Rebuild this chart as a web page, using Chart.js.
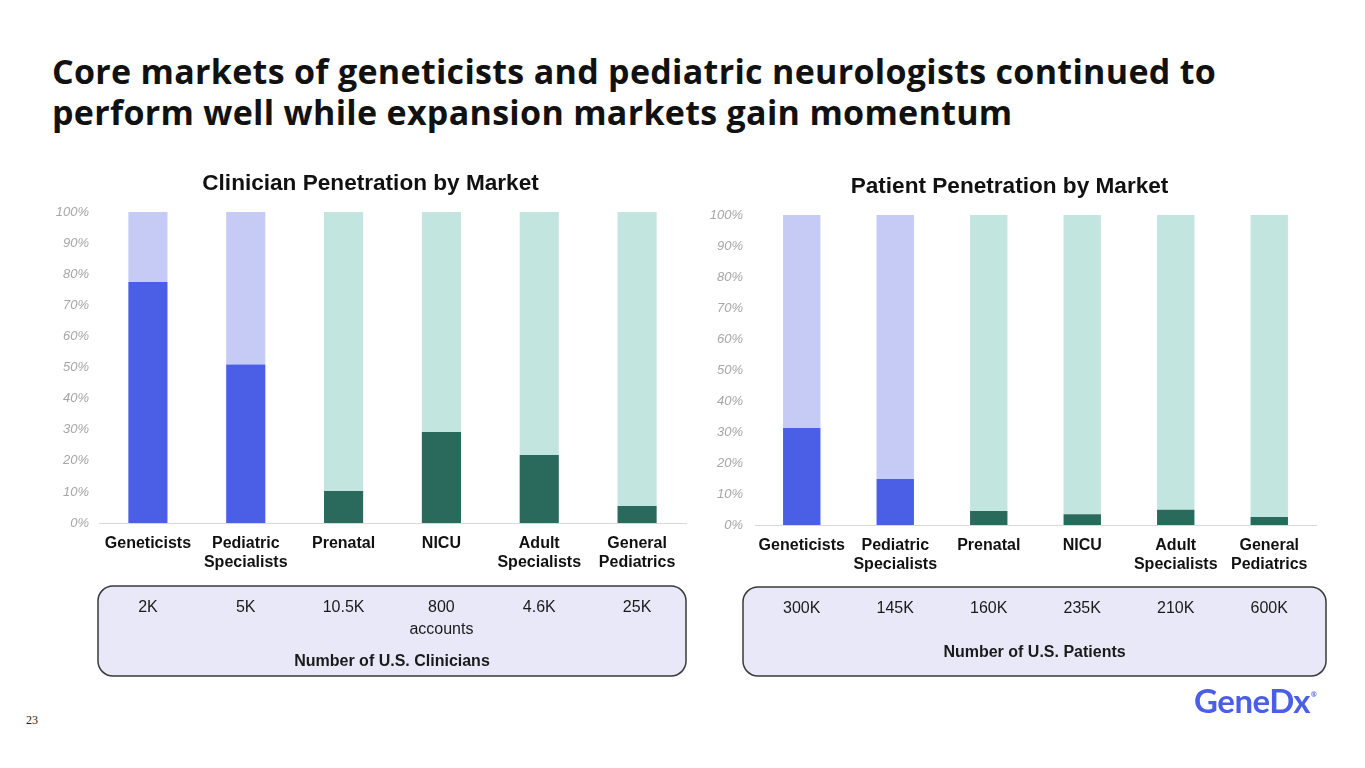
<!DOCTYPE html>
<html>
<head>
<meta charset="utf-8">
<script src="https://cdn.jsdelivr.net/npm/chart.js@4.4.1/dist/chart.umd.min.js"></script>
<style>
  html, body { margin: 0; padding: 0; background: #ffffff; }
  body { width: 1365px; height: 768px; position: relative; overflow: hidden; font-family: "Liberation Sans", Arial, sans-serif; }
  #title { position: absolute; left: 52px; top: 51px; font-family: "Open Sans", sans-serif; font-weight: 700; font-size: 34px; line-height: 41px; color: #111111; letter-spacing: 0.3px; white-space: nowrap; }
  .cv { position: absolute; top: 160px; width: 660px; height: 530px; }
  #c1 { left: 40px; }
  #c2 { left: 690px; }
  #page { position: absolute; left: 26px; top: 713px; font-family: "Liberation Serif", serif; font-size: 12px; color: #222; }
  #logo { position: absolute; left: 1194px; top: 680px; font-family: "Lato", "Open Sans", sans-serif; font-weight: 700; font-size: 33px; color: #4a5fe6; letter-spacing: -0.5px; }
  #logo sup { font-size: 7px; vertical-align: 16px; margin-left: 1px; }
</style>
</head>
<body>
<div id="title">Core markets of geneticists and pediatric neurologists continued to<br>perform well while expansion markets gain momentum</div>
<div class="cv" id="c1"><canvas id="chart1" width="660" height="530"></canvas></div>
<div class="cv" id="c2"><canvas id="chart2" width="660" height="530"></canvas></div>
<div id="page">23</div>
<div id="logo">GeneDx<sup>®</sup></div>
<script>
// ---- data ----
const categories = [["Geneticists"], ["Pediatric", "Specialists"], ["Prenatal"], ["NICU"], ["Adult", "Specialists"], ["General", "Pediatrics"]];
const clinicianPenetration = [77.5, 51, 10.3, 29.3, 21.9, 5.5];
const clinicianRemainder = clinicianPenetration.map(v => 100 - v);
const patientPenetration = [31.3, 14.8, 4.5, 3.5, 4.9, 2.6];
const patientRemainder = patientPenetration.map(v => 100 - v);
const clinicianCounts = [["2K"], ["5K"], ["10.5K"], ["800", "accounts"], ["4.6K"], ["25K"]];
const patientCounts = [["300K"], ["145K"], ["160K"], ["235K"], ["210K"], ["600K"]];
const yTicks = [0, 10, 20, 30, 40, 50, 60, 70, 80, 90, 100];

// ---- colors ----
const coreDark = "#4a5fe6", coreLight = "#c6cbf6";
const expDark = "#2a6a5d", expLight = "#c2e6df";
const coreIdx = [0, 1];
const darkColors = categories.map((c, i) => coreIdx.includes(i) ? coreDark : expDark);
const lightColors = categories.map((c, i) => coreIdx.includes(i) ? coreLight : expLight);

const countBoxPlugin = {
  id: 'countBox',
  afterDraw(chart, args, opts) {
    const ctx = chart.ctx;
    const xs = chart.scales.x;
    const b = chart.chartArea;
    const top = b.bottom + opts.offsetTop, h = opts.height;
    const left = opts.left, right = opts.right;
    ctx.save();
    ctx.beginPath();
    ctx.roundRect(left, top, right - left, h, 15);
    ctx.fillStyle = "#e8e8f8";
    ctx.fill();
    ctx.lineWidth = 1.5;
    ctx.strokeStyle = "#3a3a3a";
    ctx.stroke();
    ctx.fillStyle = "#1a1a1a";
    ctx.textAlign = "center";
    ctx.textBaseline = "middle";
    ctx.font = "16px 'Liberation Sans', Arial, sans-serif";
    opts.counts.forEach((lines, i) => {
      const x = xs.getPixelForValue(i);
      lines.forEach((t, j) => ctx.fillText(t, x, top + opts.valueY + j * 22));
    });
    ctx.font = "bold 16px 'Liberation Sans', Arial, sans-serif";
    ctx.fillText(opts.caption, (left + right) / 2, top + opts.captionY);
    ctx.restore();
  }
};

function makeChart(id, title, dark, light, counts, caption, cfg) {
  return new Chart(document.getElementById(id), {
    type: 'bar',
    data: {
      labels: categories,
      datasets: [
        { label: 'Penetration', data: dark, backgroundColor: darkColors, borderWidth: 0 },
        { label: 'Remaining', data: light, backgroundColor: lightColors, borderWidth: 0 }
      ]
    },
    options: {
      responsive: false,
      animation: false,
      devicePixelRatio: 1,
      layout: { padding: { left: cfg.padLeft, right: cfg.padRight, top: 0, bottom: 0 } },
      datasets: { bar: { categoryPercentage: 1, barPercentage: 0.4 } },
      plugins: {
        legend: { display: false },
        tooltip: { enabled: false },
        title: {
          display: true, text: title, color: '#111111',
          font: { family: "'Liberation Sans', Arial, sans-serif", size: 22.6, weight: 'bold', lineHeight: 1.2 },
          padding: { top: cfg.titleTop, bottom: cfg.titleBottom }
        },
        countBox: { counts: counts, caption: caption, offsetTop: cfg.boxTop, height: cfg.boxH, left: cfg.boxL, right: cfg.boxR, valueY: 22, captionY: cfg.capY }
      },
      scales: {
        x: {
          stacked: true,
          grid: { display: false, drawTicks: false },
          border: { display: true, color: '#d9d9d9', width: 1 },
          ticks: { color: '#111111', padding: 11, maxRotation: 0, autoSkip: false,
                   font: { family: "'Liberation Sans', Arial, sans-serif", size: 16, weight: 'bold', lineHeight: 1.2 } },
          afterFit: s => { s.height = cfg.xH; }
        },
        y: {
          stacked: true, min: 0, max: 100,
          afterBuildTicks: s => { s.ticks = yTicks.map(v => ({ value: v })); },
          grid: { display: false, drawTicks: false },
          border: { display: false },
          ticks: { color: '#a6a6a6', padding: cfg.yPad, callback: v => v + '%',
                   font: { family: "'Liberation Sans', Arial, sans-serif", size: 13, style: 'italic' } },
          afterFit: s => { s.width = cfg.yW; }
        }
      }
    },
    plugins: [countBoxPlugin]
  });
}

makeChart('chart1', 'Clinician Penetration by Market', clinicianPenetration, clinicianRemainder, clinicianCounts,
  'Number of U.S. Clinicians', { padLeft: 15, padRight: 14, titleTop: 10.5, titleBottom: 14.4, xH: 167, yW: 44, yPad: 10, boxTop: 63, boxH: 90, boxL: 58, boxR: 646, capY: 76 });
makeChart('chart2', 'Patient Penetration by Market', patientPenetration, patientRemainder, patientCounts,
  'Number of U.S. Patients', { padLeft: 13, padRight: 34, titleTop: 13.5, titleBottom: 14.4, xH: 165, yW: 52, yPad: 12, boxTop: 62, boxH: 89, boxL: 53, boxR: 636, capY: 66 });
</script>
</body>
</html>
